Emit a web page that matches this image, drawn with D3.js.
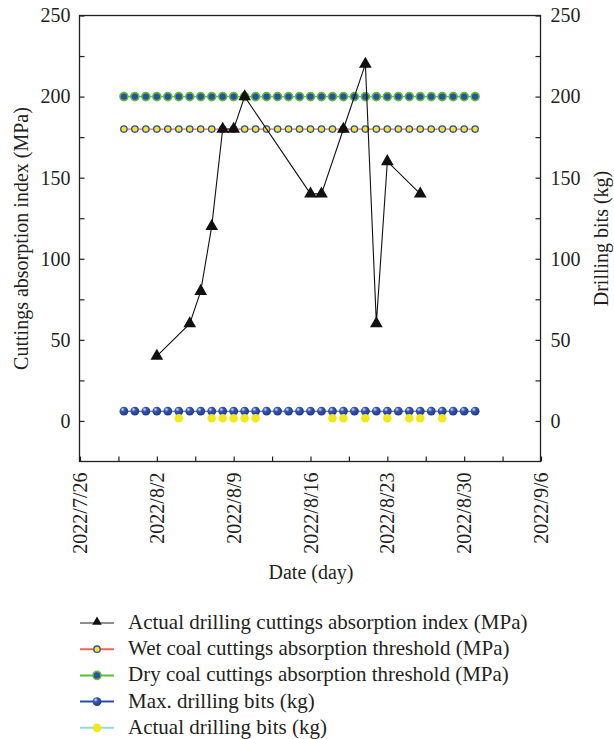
<!DOCTYPE html>
<html>
<head>
<meta charset="utf-8">
<script src="https://cdn.jsdelivr.net/npm/d3@7"></script>
<style>
  html, body { margin: 0; padding: 0; background: #fff; }
  svg { display: block; font-family: "Liberation Serif", "DejaVu Serif", serif; }
  text { fill: #231f20; }
</style>
</head>
<body>
<svg id="chart" width="614" height="739"></svg>
<script>
// ---- data ----
const indexDates = [
  '2022-08-02', '2022-08-05', '2022-08-06', '2022-08-07', '2022-08-08',
  '2022-08-09', '2022-08-10', '2022-08-16', '2022-08-17', '2022-08-19',
  '2022-08-21', '2022-08-22', '2022-08-23', '2022-08-26'
];
const indexValues = [40, 60, 80, 120, 180, 180, 200, 140, 140, 180, 220, 60, 160, 140];

const thresholdDates = [
  '2022-07-30', '2022-07-31', '2022-08-01', '2022-08-02', '2022-08-03',
  '2022-08-04', '2022-08-05', '2022-08-06', '2022-08-07', '2022-08-08',
  '2022-08-09', '2022-08-10', '2022-08-11', '2022-08-12', '2022-08-13',
  '2022-08-14', '2022-08-15', '2022-08-16', '2022-08-17', '2022-08-18',
  '2022-08-19', '2022-08-20', '2022-08-21', '2022-08-22', '2022-08-23',
  '2022-08-24', '2022-08-25', '2022-08-26', '2022-08-27', '2022-08-28',
  '2022-08-29', '2022-08-30', '2022-08-31'
];
const WET_THRESHOLD = 180;
const DRY_THRESHOLD = 200;
const MAX_BITS = 6;

const actualBitsDates = [
  '2022-08-04', '2022-08-07', '2022-08-08', '2022-08-09', '2022-08-10',
  '2022-08-11', '2022-08-18', '2022-08-19', '2022-08-21', '2022-08-23',
  '2022-08-25', '2022-08-26', '2022-08-28'
];
const actualBitsValues = [1.7, 1.7, 1.7, 1.7, 1.7, 1.7, 1.7, 1.7, 1.7, 1.7, 1.7, 1.7, 1.7];

const xTickDates = ['2022-07-26', '2022-08-02', '2022-08-09', '2022-08-16', '2022-08-23', '2022-08-30', '2022-09-06'];
const yTicks = [0, 50, 100, 150, 200, 250];
const yMinorTicks = [25, 75, 125, 175, 225];

const legendLabels = [
  'Actual drilling cuttings absorption index (MPa)',
  'Wet coal cuttings absorption threshold (MPa)',
  'Dry coal cuttings absorption threshold (MPa)',
  'Max. drilling bits (kg)',
  'Actual drilling bits (kg)'
];

// ---- layout ----
const FONT_SIZE = 20;
const LEGEND_FONT_SIZE = 21;
const BLUE = '#2d4ea4';
const GREEN = '#5dbd3c';
const YELLOW = '#f2e81c';
const RED = '#f06262';
const CYAN = '#92d9e6';

const parse = d3.utcParse('%Y-%m-%d');
const fmt = d3.utcFormat('%Y/%-m/%-d');

const margin = { left: 79.5, right: 540.5, top: 15.5, bottom: 461.5 };

const svg = d3.select('#chart');

const defs = svg.append('defs');
const grad = defs.append('radialGradient')
  .attr('id', 'ball')
  .attr('cx', '35%').attr('cy', '30%').attr('r', '70%');
grad.append('stop').attr('offset', '0%').attr('stop-color', '#d8def2');
grad.append('stop').attr('offset', '35%').attr('stop-color', '#3556b0');
grad.append('stop').attr('offset', '100%').attr('stop-color', '#1f3a88');

const x = d3.scaleUtc()
  .domain([parse('2022-07-26'), parse('2022-09-06')])
  .range([margin.left + 0.5, margin.right + 0.5]);
const y = d3.scaleLinear()
  .domain([-25, 250])
  .range([margin.bottom, margin.top]);

// frame
svg.append('rect')
  .attr('x', margin.left).attr('y', margin.top)
  .attr('width', margin.right - margin.left)
  .attr('height', margin.bottom - margin.top)
  .attr('fill', 'none').attr('stroke', '#231f20').attr('stroke-width', 1.3);

// left axis
const leftAxis = svg.append('g')
  .attr('transform', `translate(${margin.left},0)`)
  .call(d3.axisLeft(y).tickValues(yTicks).tickSize(-5).tickPadding(9));
const leftMinor = svg.append('g')
  .attr('transform', `translate(${margin.left},0)`)
  .call(d3.axisLeft(y).tickValues(yMinorTicks).tickSize(-5).tickFormat(''));

// right axis
const rightAxis = svg.append('g')
  .attr('transform', `translate(${margin.right},0)`)
  .call(d3.axisRight(y).tickValues(yTicks).tickSize(-5).tickPadding(10));
const rightMinor = svg.append('g')
  .attr('transform', `translate(${margin.right},0)`)
  .call(d3.axisRight(y).tickValues(yMinorTicks).tickSize(-5).tickFormat(''));

// bottom axis
const xTicks = xTickDates.map(parse);
const xMinor = xTicks.slice(0, -1).map((d) => d3.utcHour.offset(d, 84));
const bottomAxis = svg.append('g')
  .attr('transform', `translate(0,${margin.bottom})`)
  .call(d3.axisBottom(x).tickValues(xTicks).tickSize(-5).tickFormat(''));
const bottomMinor = svg.append('g')
  .attr('transform', `translate(0,${margin.bottom})`)
  .call(d3.axisBottom(x).tickValues(xMinor).tickSize(-5).tickFormat(''));

for (const g of [leftAxis, leftMinor, rightAxis, rightMinor, bottomAxis, bottomMinor]) {
  g.select('.domain').remove();
  g.selectAll('line').attr('stroke', '#231f20').attr('stroke-width', 1.2);
  g.selectAll('text')
    .attr('font-family', '"Liberation Serif", serif')
    .attr('font-size', FONT_SIZE)
    .attr('fill', '#231f20');
}

// rotated date labels
svg.append('g')
  .selectAll('text')
  .data(xTicks)
  .join('text')
  .attr('transform', (d) => `translate(${x(d)},${margin.bottom + 11}) rotate(-90)`)
  .attr('text-anchor', 'end')
  .attr('dy', '0.35em')
  .attr('font-size', FONT_SIZE)
  .text((d) => fmt(d));

// axis titles
svg.append('text')
  .attr('transform', `translate(28,${(margin.top + margin.bottom) / 2}) rotate(-90)`)
  .attr('text-anchor', 'middle')
  .attr('font-size', FONT_SIZE)
  .text('Cuttings absorption index (MPa)');
svg.append('text')
  .attr('transform', `translate(608,${(margin.top + margin.bottom) / 2}) rotate(-90)`)
  .attr('text-anchor', 'middle')
  .attr('font-size', FONT_SIZE)
  .text('Drilling bits (kg)');
svg.append('text')
  .attr('x', 311).attr('y', 579)
  .attr('text-anchor', 'middle')
  .attr('font-size', FONT_SIZE)
  .text('Date (day)');

// ---- series ----
const plot = svg.append('g');
const tDates = thresholdDates.map(parse);

const hLine = (value) => d3.line()
  .x((d) => x(d))
  .y(() => y(value));

// max drilling bits
plot.append('path')
  .datum(tDates)
  .attr('d', hLine(MAX_BITS))
  .attr('fill', 'none').attr('stroke', BLUE).attr('stroke-width', 1);
plot.append('g')
  .selectAll('circle')
  .data(tDates)
  .join('circle')
  .attr('cx', (d) => x(d)).attr('cy', y(MAX_BITS))
  .attr('r', 4.4)
  .attr('fill', 'url(#ball)');

// actual drilling bits
plot.append('g')
  .selectAll('circle')
  .data(actualBitsDates.map((d, i) => ({ date: parse(d), value: actualBitsValues[i] })))
  .join('circle')
  .attr('cx', (d) => x(d.date)).attr('cy', (d) => y(d.value))
  .attr('r', 4.3)
  .attr('fill', YELLOW);

// dry threshold
plot.append('path')
  .datum(tDates)
  .attr('d', hLine(DRY_THRESHOLD))
  .attr('fill', 'none').attr('stroke', GREEN).attr('stroke-width', 1.2);
plot.append('g')
  .selectAll('circle')
  .data(tDates)
  .join('circle')
  .attr('cx', (d) => x(d)).attr('cy', y(DRY_THRESHOLD))
  .attr('r', 4)
  .attr('fill', BLUE).attr('stroke', GREEN).attr('stroke-width', 1.6);

// wet threshold
plot.append('path')
  .datum(tDates)
  .attr('d', hLine(WET_THRESHOLD))
  .attr('fill', 'none').attr('stroke', RED).attr('stroke-width', 1.2);
plot.append('g')
  .selectAll('circle')
  .data(tDates)
  .join('circle')
  .attr('cx', (d) => x(d)).attr('cy', y(WET_THRESHOLD))
  .attr('r', 3.2)
  .attr('fill', YELLOW).attr('stroke', BLUE).attr('stroke-width', 1.3);

// actual cuttings absorption index
const indexData = indexDates.map((d, i) => ({ date: parse(d), value: indexValues[i] }));
plot.append('path')
  .datum(indexData)
  .attr('d', d3.line().x((d) => x(d.date)).y((d) => y(d.value)))
  .attr('fill', 'none').attr('stroke', '#111').attr('stroke-width', 1.1);
const tri = d3.symbol().type(d3.symbolTriangle).size(70);
plot.append('g')
  .selectAll('path')
  .data(indexData)
  .join('path')
  .attr('transform', (d) => `translate(${x(d.date)},${y(d.value)})`)
  .attr('d', tri)
  .attr('fill', '#111');

// ---- legend ----
const legend = svg.append('g');
const rows = legend.selectAll('g')
  .data(legendLabels)
  .join('g')
  .attr('transform', (d, i) => `translate(0,${623 + i * 26.2})`);

const lineColors = ['#231f20', RED, GREEN, BLUE, CYAN];
rows.append('line')
  .attr('x1', 80).attr('x2', 114)
  .attr('stroke', (d, i) => lineColors[i])
  .attr('stroke-width', (d, i) => (i === 0 ? 1.2 : 2));

rows.each(function (d, i) {
  const row = d3.select(this);
  if (i === 0) {
    row.append('path')
      .attr('transform', 'translate(97,-1)')
      .attr('d', d3.symbol().type(d3.symbolTriangle).size(40))
      .attr('fill', '#111');
  } else if (i === 1) {
    row.append('circle').attr('cx', 97).attr('r', 3.2)
      .attr('fill', YELLOW).attr('stroke', BLUE).attr('stroke-width', 1.3);
  } else if (i === 2) {
    row.append('circle').attr('cx', 97).attr('r', 4)
      .attr('fill', BLUE).attr('stroke', GREEN).attr('stroke-width', 1.6);
  } else if (i === 3) {
    row.append('circle').attr('cx', 97).attr('r', 4.4).attr('fill', 'url(#ball)');
  } else {
    row.append('circle').attr('cx', 97).attr('r', 4.4).attr('fill', YELLOW);
  }
});

rows.append('text')
  .attr('x', 128).attr('y', 6)
  .attr('font-size', LEGEND_FONT_SIZE)
  .text((d) => d);
</script>
</body>
</html>
